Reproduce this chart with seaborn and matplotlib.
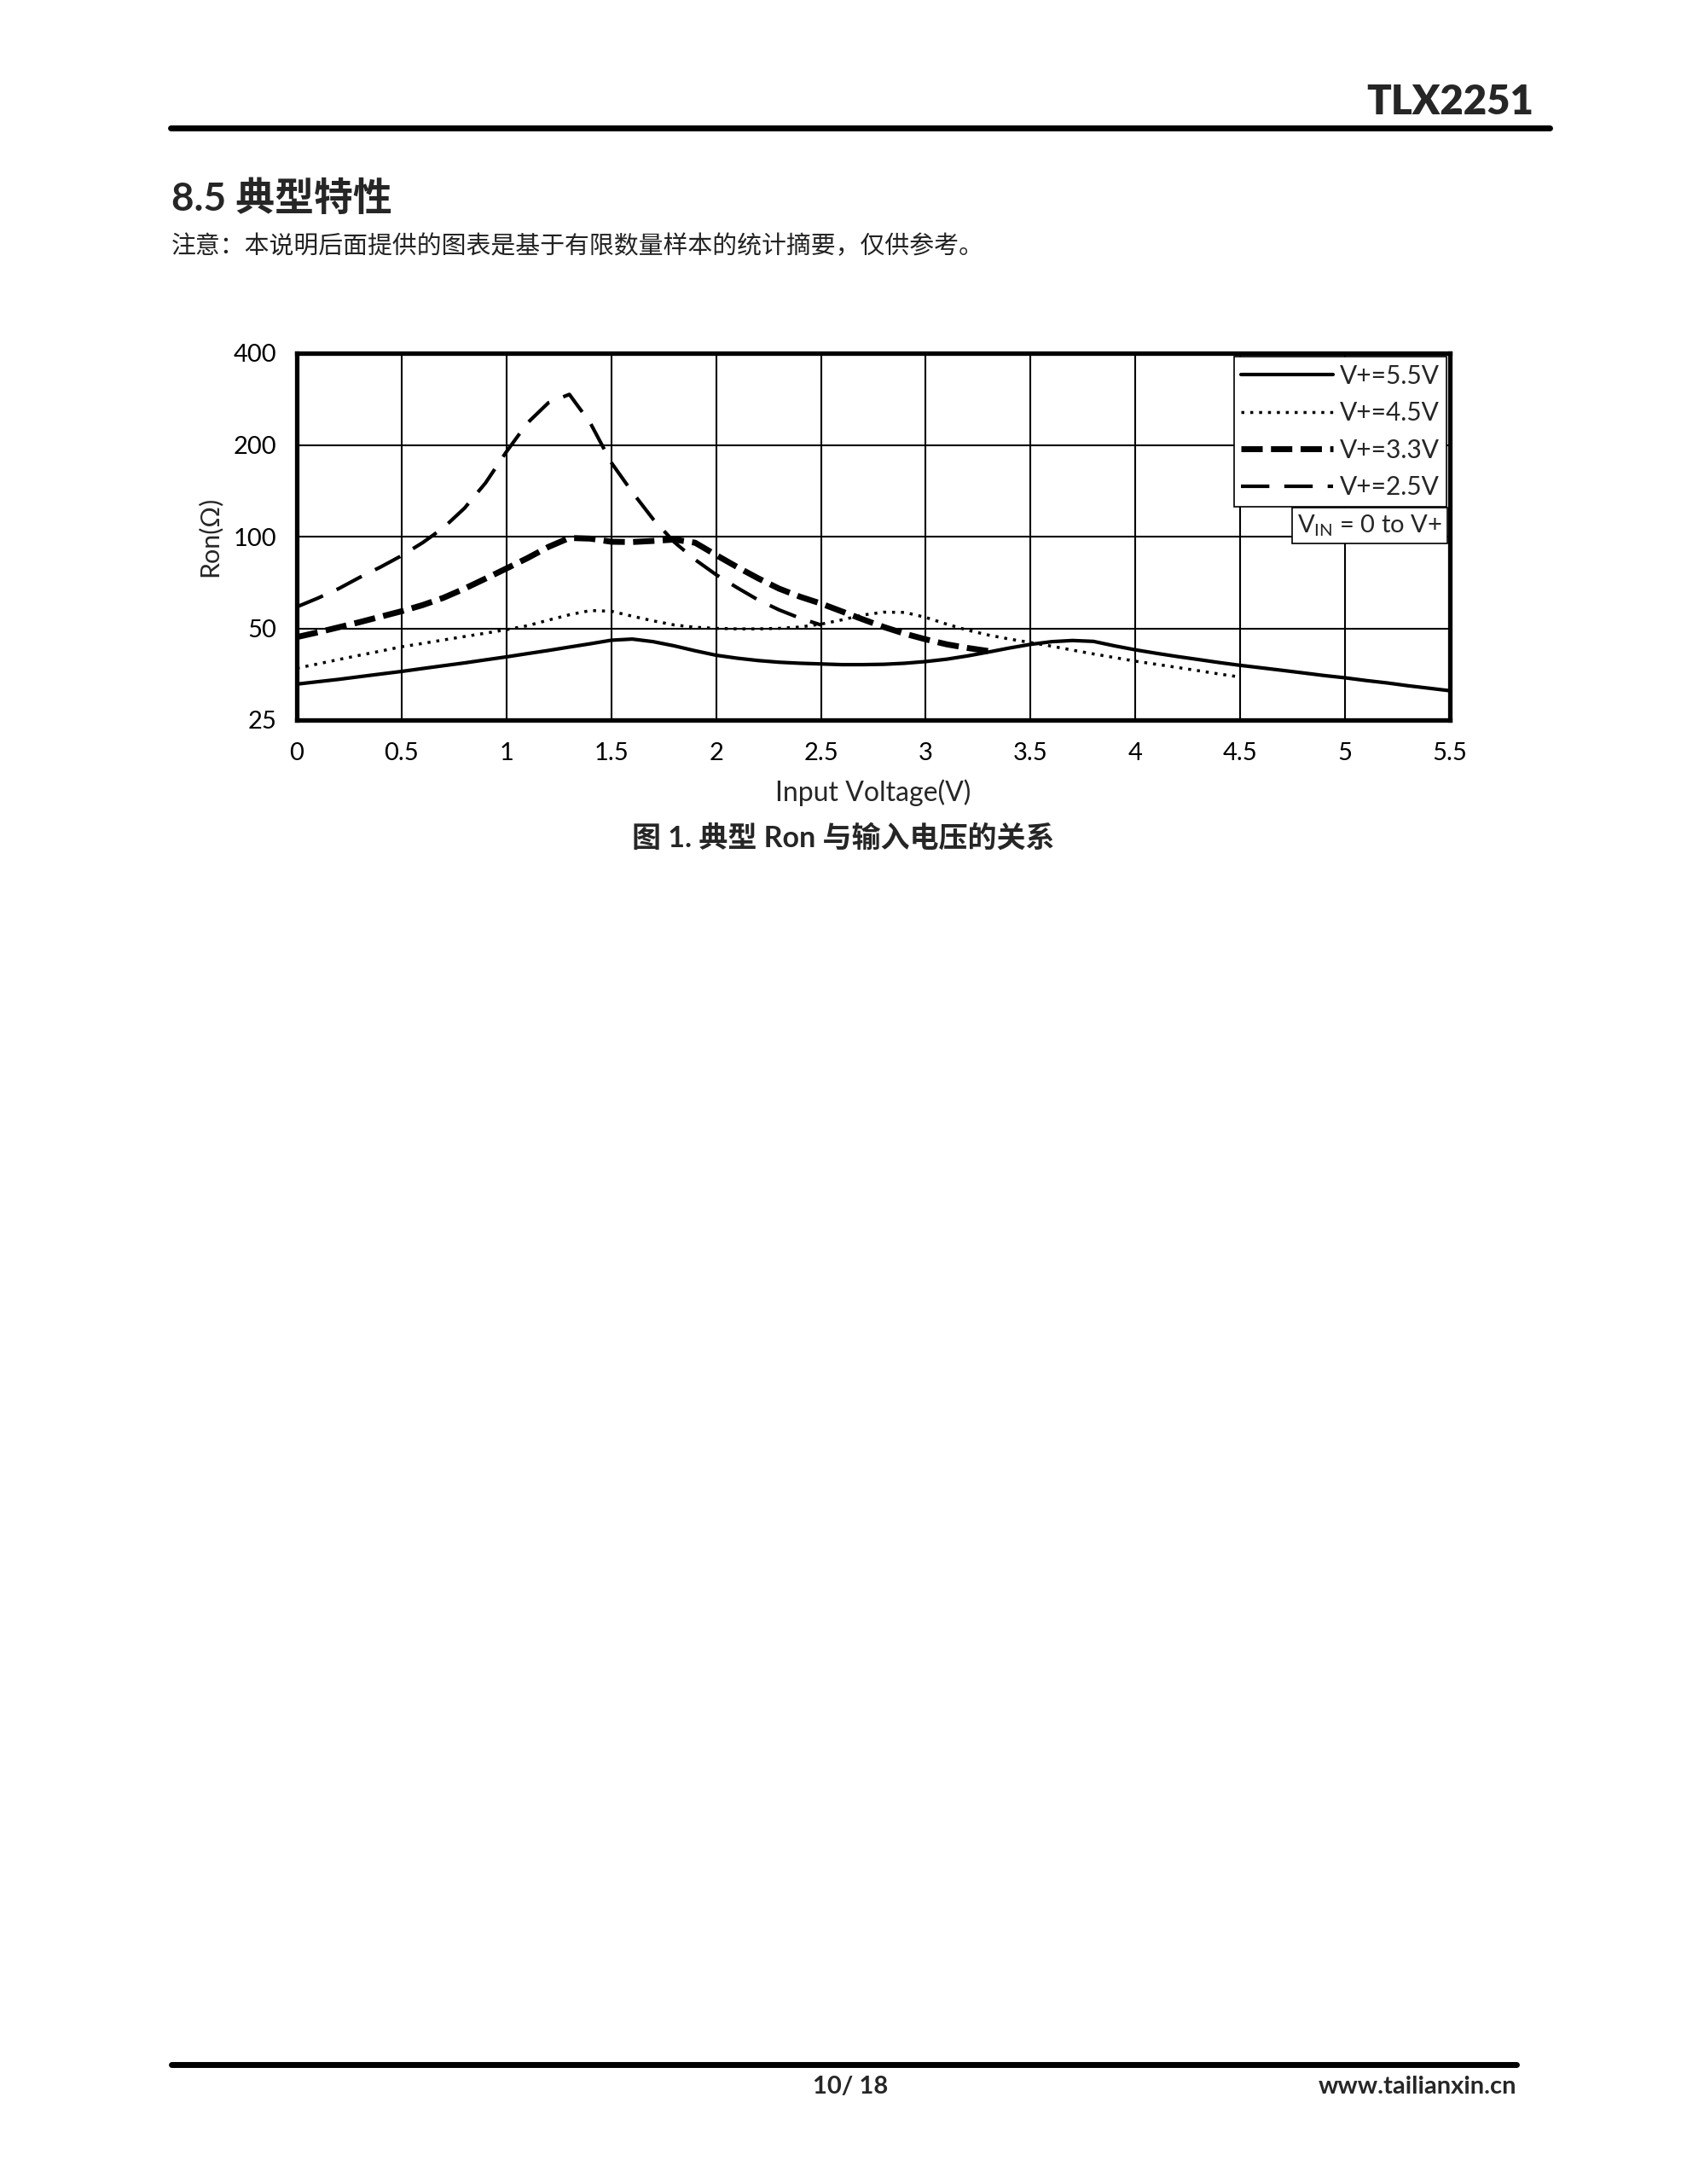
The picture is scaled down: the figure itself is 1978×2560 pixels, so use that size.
import matplotlib
matplotlib.use('Agg')
import matplotlib.pyplot as plt
import seaborn as sns
from matplotlib.lines import Line2D
from matplotlib.offsetbox import AnchoredText
from matplotlib.ticker import NullLocator

# Data (Ron in ohm vs. input voltage in V)
vin = [0.0, 0.1, 0.2, 0.3, 0.4, 0.5, 0.6, 0.7, 0.8, 0.9,
       1.0, 1.1, 1.2, 1.3, 1.4, 1.5, 1.6, 1.7, 1.8, 1.9,
       2.0, 2.1, 2.2, 2.3, 2.4, 2.5, 2.6, 2.7, 2.8, 2.9,
       3.0, 3.1, 3.2, 3.3, 3.4, 3.5, 3.6, 3.7, 3.8, 3.9,
       4.0, 4.1, 4.2, 4.3, 4.4, 4.5, 4.6, 4.7, 4.8, 4.9,
       5.0, 5.1, 5.2, 5.3, 5.4, 5.5]

ron_55 = [32.8, 33.4, 34.0, 34.7, 35.4, 36.1, 36.9, 37.7, 38.5, 39.4,
          40.3, 41.3, 42.3, 43.4, 44.5, 45.7, 46.1, 45.2, 43.8, 42.2,
          40.8, 39.9, 39.2, 38.7, 38.4, 38.2, 38.0, 38.0, 38.1, 38.4,
          38.9, 39.6, 40.6, 41.8, 43.1, 44.3, 45.2, 45.6, 45.3, 43.8,
          42.5, 41.4, 40.4, 39.5, 38.6, 37.8, 37.1, 36.4, 35.7, 35.0,
          34.4, 33.7, 33.1, 32.4, 31.8, 31.2]

ron_45 = [37.0, 38.2, 39.5, 40.8, 42.1, 43.5, 44.6, 45.8, 47.0, 48.2,
          49.5, 51.0, 53.2, 55.4, 57.2, 56.9, 54.8, 52.9, 51.3, 50.4,
          50.0, 49.8, 49.8, 50.0, 50.5, 51.6, 53.3, 55.3, 56.5, 56.4,
          54.3, 51.6, 49.3, 47.5, 46.1, 44.9, 43.7, 42.4, 41.2, 40.1,
          39.0, 38.1, 37.2, 36.3, 35.4, 34.6]

ron_33 = [46.8, 48.5, 50.4, 52.4, 54.6, 56.9, 59.6, 63.0, 67.5, 72.8,
          78.6, 85.0, 92.5, 99.0, 98.5, 96.2, 96.0, 96.8, 97.8, 95.5,
          87.0, 79.5, 73.0, 67.5, 63.5, 60.3, 56.8, 53.5, 50.5, 48.0,
          46.0, 44.3, 43.1, 42.1]

ron_25 = [58.8, 62.8, 67.5, 73.5, 79.5, 86.6, 95.5, 107.0, 124.0, 150.0,
          190.0, 236.0, 275.0, 293.0, 236.0, 175.0, 140.0, 114.0, 96.0, 84.0,
          75.0, 68.0, 62.0, 57.5, 54.0, 51.3]

series_labels = ['V+=5.5V', 'V+=4.5V', 'V+=3.3V', 'V+=2.5V']
x_ticks = [0, 0.5, 1, 1.5, 2, 2.5, 3, 3.5, 4, 4.5, 5, 5.5]
x_tick_labels = ['0', '0.5', '1', '1.5', '2', '2.5', '3', '3.5', '4', '4.5', '5', '5.5']
y_ticks = [25, 50, 100, 200, 400]
y_tick_labels = ['25', '50', '100', '200', '400']

sns.set_style('white')
plt.rcParams['font.family'] = ['Lato', 'Noto Sans CJK SC', 'DejaVu Sans']
plt.rcParams['mathtext.fontset'] = 'custom'
plt.rcParams['mathtext.rm'] = 'Lato'
plt.rcParams['mathtext.it'] = 'Lato:italic'
plt.rcParams['mathtext.bf'] = 'Lato:bold'

W, H = 1978, 2560
fig = plt.figure(figsize=(W / 100, H / 100), dpi=100, facecolor='white')


def fx(px):
    return px / W


def fy(py):
    return 1 - py / H


ax = fig.add_axes([fx(348), fy(844), fx(1700) - fx(348), fy(414) - fy(844)])

line_styles = [
    ('-', 3.0),
    ((0, (1, 2.0)), 2.5),
    ((0, (3.6, 1.4)), 5.0),
    ((0, (8.0, 4.2)), 3.0),
]
all_ron = [ron_55, ron_45, ron_33, ron_25]

for label, ron, (ls, lw) in zip(series_labels, all_ron, line_styles):
    sns.lineplot(x=vin[:len(ron)], y=ron, ax=ax, color='black',
                 linewidth=lw, linestyle=ls, label=label)

ax.set_yscale('log')
ax.set_ylim(25, 400)
ax.set_xlim(0, 5.5)
ax.set_yticks(y_ticks)
ax.set_yticklabels(y_tick_labels)
ax.yaxis.set_minor_locator(NullLocator())
ax.set_xticks(x_ticks)
ax.set_xticklabels(x_tick_labels)
ax.grid(True, color='black', linewidth=1.5)
ax.set_axisbelow(True)
for sp in ax.spines.values():
    sp.set_visible(True)
    sp.set_color('black')
    sp.set_linewidth(3.8)
ax.tick_params(axis='both', length=0, labelsize=21, colors='black')
ax.tick_params(axis='x', pad=19)
ax.tick_params(axis='y', pad=17)

ax.set_xlabel('Input Voltage(V)', fontsize=23, labelpad=12)
ax.set_ylabel('Ron(Ω)', fontsize=22, labelpad=10)

leg = ax.legend(loc='upper right', bbox_to_anchor=(1.0, 1.0), fontsize=21.5,
                frameon=True, fancybox=False, framealpha=1, edgecolor='black',
                borderaxespad=0.12, borderpad=0.3, labelspacing=0.52,
                handlelength=3.6, handletextpad=0.25)
leg.get_frame().set_linewidth(1.2)

at = AnchoredText(r'$\mathrm{V_{IN}}$ = 0 to V+', loc='upper right',
                  bbox_to_anchor=(0.998, 0.58), bbox_transform=ax.transAxes,
                  borderpad=0, pad=0.22, prop=dict(size=21), frameon=True)
at.patch.set_edgecolor('black')
at.patch.set_linewidth(1.2)
ax.add_artist(at)

# page furniture
fig.add_artist(Line2D([fx(200), fx(1817)], [fy(149.5), fy(149.5)],
                      transform=fig.transFigure, color='black', linewidth=5))
fig.add_artist(Line2D([fx(201), fx(1778)], [fy(2420), fy(2420)],
                      transform=fig.transFigure, color='black', linewidth=5))

fig.text(fx(1798), fy(120), 'TLX2251', ha='right', va='center',
         fontsize=34, fontweight='heavy')
fig.text(fx(201), fy(233), '8.5 典型特性', ha='left', va='center',
         fontsize=33, fontweight='bold')
fig.text(fx(201), fy(288), '注意：本说明后面提供的图表是基于有限数量样本的统计摘要，仅供参考。',
         ha='left', va='center', fontsize=20.8, color='#222222')
fig.text(fx(989), fy(982), '图 1. 典型 Ron 与输入电压的关系', ha='center', va='center',
         fontsize=24.5, fontweight='bold')
fig.text(fx(997), fy(2446), '10/ 18', ha='center', va='center',
         fontsize=21, fontweight='bold')
fig.text(fx(1778), fy(2446), 'www.tailianxin.cn', ha='right', va='center',
         fontsize=21, fontweight='bold')

fig.savefig('out.png', dpi=100, facecolor='white')
